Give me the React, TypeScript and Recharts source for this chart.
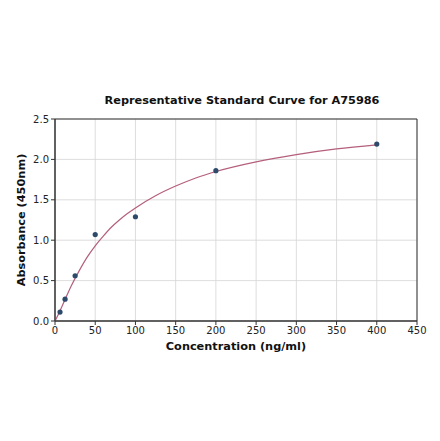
import {
  CartesianGrid,
  ComposedChart,
  Line,
  ReferenceArea,
  Scatter,
  XAxis,
  YAxis,
} from 'recharts'

// measured standards
const concentrations = [6.25, 12.5, 25, 50, 100, 200, 400]
const absorbances = [0.11, 0.27, 0.56, 1.07, 1.29, 1.86, 2.19]

// fitted curve
const curveX = [0, 5, 10, 20, 30, 40, 50, 60, 70, 80, 90, 100, 125, 150, 175, 200, 250, 300, 350, 400]
const curveY = [0, 0.1, 0.21, 0.43, 0.62, 0.79, 0.93, 1.05, 1.16, 1.25, 1.33, 1.4, 1.55, 1.67, 1.77, 1.85, 1.97, 2.06, 2.13, 2.18]

const xTicks = [0, 50, 100, 150, 200, 250, 300, 350, 400, 450]
const yTicks = [0, 0.5, 1, 1.5, 2, 2.5]

const font = 'DejaVu Sans, sans-serif'

export default function App() {
  const points = concentrations.map((x, i) => ({ x, y: absorbances[i] }))
  const curve = curveX.map((x, i) => ({ x, y: curveY[i] }))

  return (
    <div style={{ position: 'absolute', left: 0, top: 0, width: 440, height: 441, background: '#fff' }}>
      <div
        style={{
          position: 'absolute',
          left: 61,
          width: 362,
          top: 94,
          textAlign: 'center',
          fontFamily: font,
          fontWeight: 'bold',
          fontSize: 11.3,
          color: '#111',
        }}
      >
        Representative Standard Curve for A75986
      </div>
      <ComposedChart width={440} height={441} margin={{ top: 119, right: 23, left: 0, bottom: 85 }}>
        <CartesianGrid stroke="#d4d4d4" strokeWidth={0.8} />
        <XAxis
          type="number"
          dataKey="x"
          domain={[0, 450]}
          ticks={xTicks}
          height={35}
          tickSize={4}
          tick={{ fontSize: 10, fontFamily: font, fill: '#222' }}
          stroke="#333"
          label={{ value: 'Concentration (ng/ml)', position: 'insideBottom', offset: 6, style: { fontSize: 11.3, fontWeight: 'bold', fontFamily: font, fill: '#111' } }}
        />
        <YAxis
          type="number"
          dataKey="y"
          domain={[0, 2.5]}
          ticks={yTicks}
          width={55}
          tickSize={4}
          tickFormatter={v => v.toFixed(1)}
          tick={{ fontSize: 10, fontFamily: font, fill: '#222' }}
          stroke="#333"
          label={{ value: 'Absorbance (450nm)', angle: -90, position: 'insideLeft', offset: 21, style: { fontSize: 11.3, fontWeight: 'bold', fontFamily: font, fill: '#111', textAnchor: 'middle' } }}
        />
        <ReferenceArea x1={0} x2={450} y1={0} y2={2.5} fill="none" stroke="#333" strokeWidth={1} ifOverflow="visible" />
        <Line
          data={curve}
          dataKey="y"
          type="monotone"
          stroke="#b45f7c"
          strokeWidth={1.2}
          dot={false}
          isAnimationActive={false}
        />
        <Scatter data={points} dataKey="y" fill="#2e4a6b" shape={(p: any) => <circle cx={p.cx} cy={p.cy} r={2.6} fill="#2e4a6b" />} isAnimationActive={false} />
      </ComposedChart>
    </div>
  )
}
